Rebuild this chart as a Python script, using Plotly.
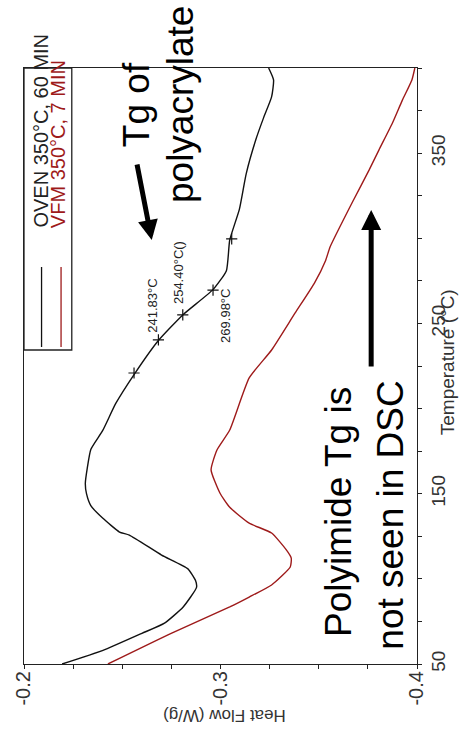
import plotly.graph_objects as go

# ---------------- data ----------------
oven_temp = [50, 58, 68, 74, 83.5, 95, 99, 106, 114, 125.7, 127.5, 135.7, 143, 150, 156, 165,
             176, 187, 203, 221, 240, 255, 270, 281, 299, 317, 338, 358, 371, 383, 393, 400]
oven_hf = [-0.2194, -0.2402, -0.2600, -0.2715, -0.2810, -0.2878, -0.2873, -0.2833, -0.2700,
           -0.2536, -0.2486, -0.2400, -0.2340, -0.2318, -0.2312, -0.2322, -0.2340, -0.2400,
           -0.2467, -0.2566, -0.2684, -0.2808, -0.2963, -0.3030, -0.3047, -0.3096, -0.3131,
           -0.3180, -0.3220, -0.3260, -0.3270, -0.3245]

vfm_temp = [50, 68, 83.5, 89.3, 96.4, 107, 112.2, 117, 126.9, 132.7, 142, 150.4, 164, 175.7,
            187.4, 218, 234.4, 256, 273.7, 287, 295, 322.5, 340, 351.8, 367.7, 381, 393, 400]
vfm_hf = [-0.2427, -0.2749, -0.3047, -0.3146, -0.3260, -0.3355, -0.3360, -0.3335, -0.3260,
          -0.3146, -0.3047, -0.2997, -0.2952, -0.2982, -0.3047, -0.3146, -0.3260, -0.3379,
          -0.3478, -0.3535, -0.3558, -0.3677, -0.3756, -0.3806, -0.3875, -0.3925, -0.3974,
          -0.3989]

mark_temp = [220.9, 240.3, 255.0, 269.6, 299.6]
mark_hf = [-0.2560, -0.2684, -0.2808, -0.2962, -0.3057]

hf_ticks = [-0.2, -0.3, -0.4]
hf_ticktext = ["-0.2", "-0.3", "-0.4"]
temp_ticks = [50, 150, 250, 350]
temp_ticktext = ["50", "150", "250", "350"]

series_names = ["OVEN 350°C, 60 MIN", "VFM 350°C, 7 MIN"]
tg_labels = ["241.83°C", "254.40°C()", "269.98°C"]

# ---------------- layout helpers ----------------
W, H = 461, 735
L, R, T, B = 19, 422, 68, 664
FONT = "Liberation Sans, Arial, sans-serif"
BLACK = "#111111"
RED = "#9E1A1A"


def px(x):
    return (x - L) / (R - L)


def py(y):
    return (B - y) / (B - T)


fig = go.Figure()
fig.add_trace(go.Scatter(x=oven_hf, y=oven_temp, mode="lines", name=series_names[0],
                         line=dict(color=BLACK, width=1.4, shape="spline", smoothing=0.5)))
fig.add_trace(go.Scatter(x=vfm_hf, y=vfm_temp, mode="lines", name=series_names[1],
                         line=dict(color=RED, width=1.4, shape="spline", smoothing=0.5)))
fig.add_trace(go.Scatter(x=mark_hf, y=mark_temp, mode="markers",
                         marker=dict(symbol="cross-thin", size=8,
                                     line=dict(color=BLACK, width=1.2))))

ann = []


def text(s, X, Y, size, color="#111111", angle=-90):
    ann.append(dict(text=s, x=px(X), y=py(Y), xref="paper", yref="paper", showarrow=False,
                    textangle=angle, font=dict(size=size, color=color, family=FONT),
                    xanchor="center", yanchor="middle"))


# legend texts
text(series_names[0], 36, 131, 20, "#222222")
text(series_names[1], 54, 144, 20, RED)
# transition labels
text(tg_labels[0], 150, 306, 13, "#222222")
text(tg_labels[1], 177, 273, 13, "#222222")
text(tg_labels[2], 225, 316, 13, "#222222")
# big annotations
text("Tg of", 134, 105, 37, "#000000")
text("polyacrylate", 179, 105, 37, "#000000")
text("Polyimide Tg is", 342, 512, 37, "#000000")
text("not seen in DSC", 394, 515, 37, "#000000")
# axis titles
text("Heat Flow (W/g)", 224, 716, 17, "#333333", angle=180)
text("Temperature (°C)", 453, 362, 19, "#333333", angle=-90)

# arrows
ann.append(dict(text="", x=px(150), y=py(240), xref="paper", yref="paper", showarrow=True,
                ax=-15, ay=-77, arrowhead=2, arrowwidth=5, arrowsize=0.8, arrowcolor="#000000"))
ann.append(dict(text="", x=px(375), y=py(210), xref="paper", yref="paper", showarrow=True,
                ax=0, ay=158, arrowhead=2, arrowwidth=5, arrowsize=0.8, arrowcolor="#000000"))

shapes = [
    dict(type="rect", xref="paper", yref="paper", x0=px(19), x1=px(68), y0=py(350), y1=py(68),
         line=dict(color="#222222", width=1.3)),
    dict(type="line", xref="paper", yref="paper", x0=px(37), x1=px(37), y0=py(347), y1=py(267),
         line=dict(color=BLACK, width=1.3)),
    dict(type="line", xref="paper", yref="paper", x0=px(57), x1=px(57), y0=py(347), y1=py(267),
         line=dict(color=RED, width=1.3)),
]

fig.update_layout(
    width=W, height=H,
    margin=dict(l=L, r=W - R, t=T, b=H - B, pad=0),
    paper_bgcolor="white", plot_bgcolor="white",
    showlegend=False,
    font=dict(family=FONT, color="#333333"),
    annotations=ann, shapes=shapes,
    xaxis=dict(range=[-0.2, -0.4], tickmode="array", tickvals=hf_ticks, ticktext=hf_ticktext,
               tickangle=-90, tickfont=dict(size=20, color="#333333"), ticklabelstandoff=-6,
               ticks="outside", ticklen=4, tickwidth=1, tickcolor="#222222",
               showline=True, linecolor="#222222", linewidth=1.3, mirror=True,
               showgrid=False, zeroline=False,
               minor=dict(tickmode="linear", tick0=-0.4, dtick=0.025, ticks="outside",
                          ticklen=4, tickwidth=1, tickcolor="#222222", showgrid=False)),
    yaxis=dict(range=[50, 400], side="right", tickmode="array", tickvals=temp_ticks,
               ticktext=temp_ticktext, tickangle=-90, tickfont=dict(size=19, color="#333333"),
               ticks="outside", ticklen=4, tickwidth=1, tickcolor="#222222",
               showline=True, linecolor="#222222", linewidth=1.3, mirror=True,
               showgrid=False, zeroline=False,
               minor=dict(tickmode="linear", tick0=50, dtick=25, ticks="outside",
                          ticklen=4, tickwidth=1, tickcolor="#222222", showgrid=False)),
)

fig.write_html("out.html", config={"displayModeBar": False},
               post_script="document.body.style.margin='0';document.body.style.overflow='hidden';")
